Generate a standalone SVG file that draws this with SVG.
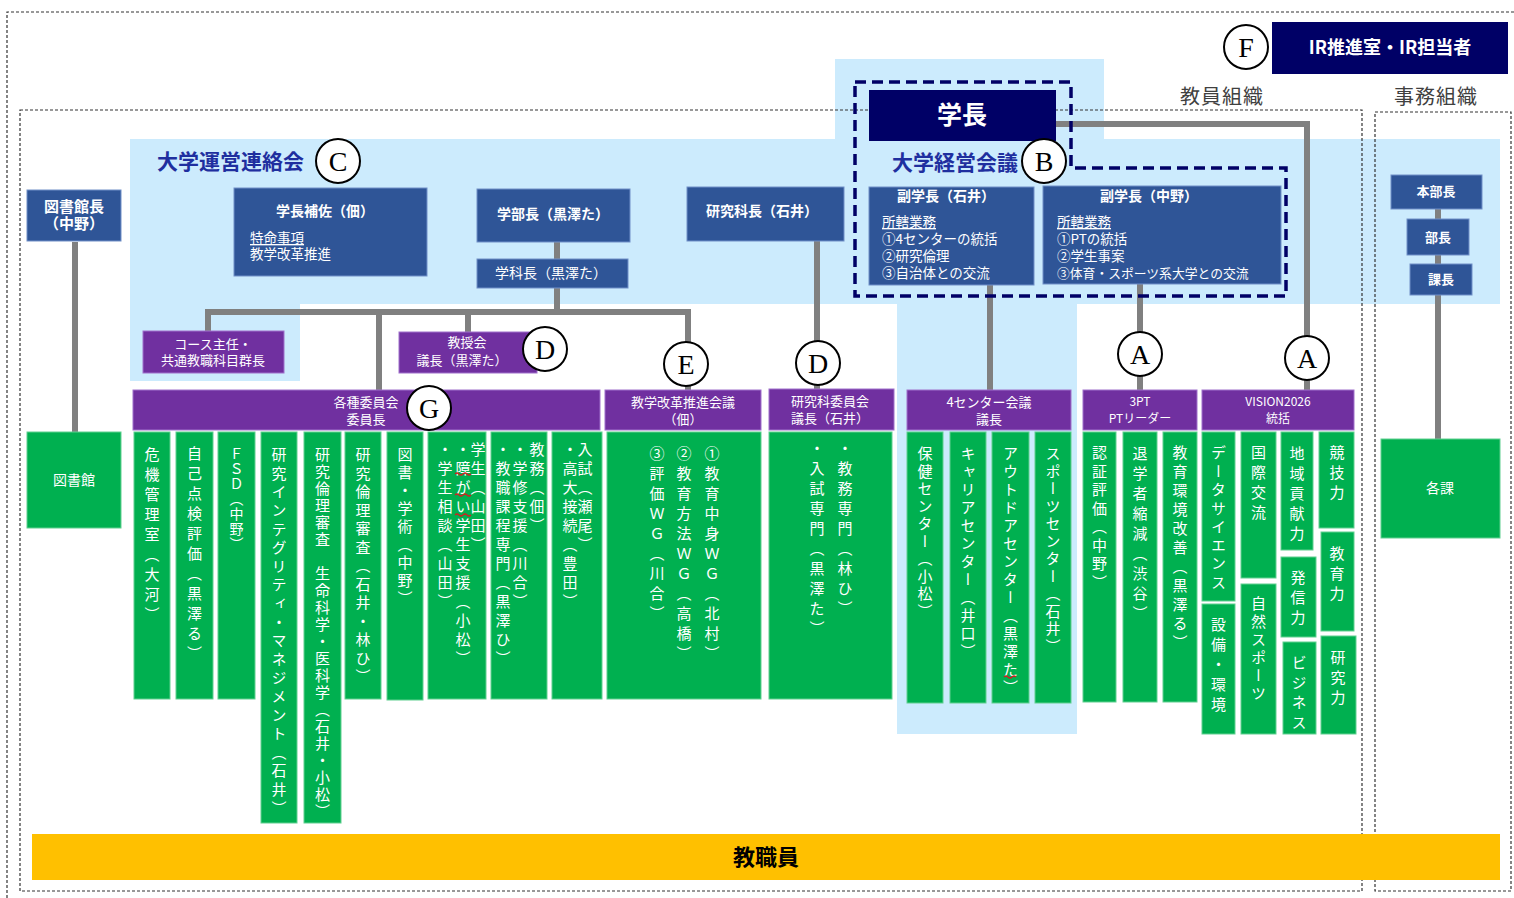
<svg xmlns="http://www.w3.org/2000/svg" width="1514" height="898" viewBox="0 0 1514 898">
<style>
text{font-family:"Noto Sans CJK JP","Noto Sans",sans-serif}
.lb{fill:#CCEBFD}
.bb{fill:#2F5597;stroke:#7090C8;stroke-width:1}
.nv{fill:#000066}
.pp{fill:#7030A0;stroke:#A070CC;stroke-width:1}
.gr{fill:#00B050;stroke:#60D090;stroke-width:1}
.yl{fill:#FFC000}
.cn{stroke:#808080;stroke-width:6;fill:none}
.fr{fill:none;stroke:#333;stroke-width:1.2;stroke-dasharray:3 2}
.dn{fill:none;stroke:#000066;stroke-width:3.5;stroke-dasharray:11 6}
.tb{fill:#fff;font-size:14px;font-weight:bold;text-anchor:middle}
.tn{fill:#fff;font-size:13.5px}
.tp{fill:#fff;font-size:13px;text-anchor:middle}
.v{fill:#fff;font-size:15px;writing-mode:vertical-rl;letter-spacing:5px;dominant-baseline:central}
.ci{fill:#fff;stroke:#000;stroke-width:2}
.lt{font-family:"Liberation Serif",serif;font-size:28px;text-anchor:middle;fill:#000}
.hd{fill:#1F2F9F;font-size:21px;font-weight:bold}
.sq{fill:none;stroke:#D02020;stroke-width:1.2}
</style>

<!-- light blue backgrounds -->
<g id="backgrounds">
<rect class="lb" x="130" y="139" width="1370" height="165"/>
<rect class="lb" x="835" y="59" width="269" height="81"/>
<rect class="lb" x="130" y="303" width="170" height="78"/>
<rect class="lb" x="897" y="303" width="180" height="431"/>
</g>

<!-- frames -->
<g id="frames">
<path class="fr" d="M7 898 V12 H1514"/>
<rect class="fr" x="20" y="110" width="1342" height="781"/>
<rect class="fr" x="1375" y="112" width="136" height="779"/>
<text x="1222" y="104" font-size="20" fill="#404040" text-anchor="middle" letter-spacing="1">教員組織</text>
<text x="1436" y="104" font-size="20" fill="#404040" text-anchor="middle" letter-spacing="1">事務組織</text>
</g>

<!-- connectors -->
<g id="connectors">
<path class="cn" d="M75 242 V432"/>
<path class="cn" d="M557 242 V259"/>
<path class="cn" d="M557 288 V312"/>
<path class="cn" d="M208 331 V312 H688 V390"/>
<path class="cn" d="M379 312 V390"/>
<path class="cn" d="M468 312 V332"/>
<path class="cn" d="M817 241 V389"/>
<path class="cn" d="M990 285 V390"/>
<path class="cn" d="M1140 284 V390"/>
<path class="cn" d="M1056 124 H1307 V390"/>
<path class="cn" d="M1438 209 V439"/>
</g>

<!-- 大学経営会議 dashed boundary -->
<g id="keiei">
<path class="dn" d="M855 82 H1071 V168 H1286 V296 H855 Z"/>
<text class="hd" x="892" y="170">大学経営会議</text>
</g>
<g id="unei"><text class="hd" x="157" y="169">大学運営連絡会</text></g>

<!-- blue nodes -->
<g id="toshokancho"><rect class="bb" x="27" y="190" width="94" height="51"/>
<text class="tb" x="74" y="212" style="font-size:15px">図書館長</text><text class="tb" x="74" y="229" style="font-size:15px">（中野）</text></g>
<g id="hosa"><rect class="bb" x="234" y="188" width="193" height="88"/>
<text class="tb" x="325" y="216">学長補佐（佃）</text>
<text class="tn" x="250" y="243" text-decoration="underline">特命事項</text>
<text class="tn" x="250" y="259">教学改革推進</text></g>
<g id="gakubucho"><rect class="bb" x="477" y="189" width="153" height="53"/><text class="tb" x="553" y="219">学部長（黒澤た）</text></g>
<g id="gakkacho"><rect class="bb" x="477" y="259" width="151" height="29"/><text class="tb" x="551" y="278" style="font-weight:normal">学科長（黒澤た）</text></g>
<g id="kenkyukacho"><rect class="bb" x="687" y="187" width="157" height="54"/><text class="tb" x="762" y="216">研究科長（石井）</text></g>
<g id="gakucho"><rect class="nv" x="869" y="90" width="187" height="51"/><text class="tb" x="962" y="124" style="font-size:25px">学長</text></g>
<g id="fuku1"><rect class="bb" x="869" y="187" width="165" height="98"/>
<text class="tb" x="946" y="201">副学長（石井）</text>
<text class="tn" x="882" y="227" text-decoration="underline">所轄業務</text>
<text class="tn" x="882" y="244">①4センターの統括</text>
<text class="tn" x="882" y="261">②研究倫理</text>
<text class="tn" x="882" y="278">③自治体との交流</text></g>
<g id="fuku2"><rect class="bb" x="1043" y="186" width="238" height="98"/>
<text class="tb" x="1149" y="201">副学長（中野）</text>
<text class="tn" x="1057" y="227" text-decoration="underline">所轄業務</text>
<text class="tn" x="1057" y="244">①PTの統括</text>
<text class="tn" x="1057" y="261">②学生事案</text>
<text class="tn" x="1057" y="278" style="font-size:12.8px">③体育・スポーツ系大学との交流</text></g>
<g id="ir"><rect class="nv" x="1272" y="22" width="236" height="52"/><text class="tb" x="1390" y="54" style="font-size:18px">IR推進室・IR担当者</text></g>
<g id="honbucho"><rect class="bb" x="1391" y="175" width="91" height="34"/><text class="tb" x="1436" y="196" style="font-size:13px">本部長</text></g>
<g id="bucho"><rect class="bb" x="1407" y="219" width="62" height="36"/><text class="tb" x="1438" y="242" style="font-size:13px">部長</text></g>
<g id="kacho"><rect class="bb" x="1410" y="264" width="62" height="31"/><text class="tb" x="1441" y="284" style="font-size:13px">課長</text></g>

<!-- purple nodes -->
<g id="course"><rect class="pp" x="143" y="331" width="141" height="42"/>
<text class="tp" x="213" y="349">コース主任・</text><text class="tp" x="213" y="365">共通教職科目群長</text></g>
<g id="kyojukai"><rect class="pp" x="399" y="332" width="138" height="41"/>
<text class="tp" x="467" y="347">教授会</text><text class="tp" x="462" y="365">議長（黒澤た）</text></g>
<g id="iinkai"><rect class="pp" x="133" y="390" width="467" height="40"/>
<text class="tp" x="366" y="407">各種委員会</text><text class="tp" x="366" y="424">委員長</text></g>
<g id="kyogaku"><rect class="pp" x="605" y="390" width="156" height="40"/>
<text class="tp" x="683" y="407">教学改革推進会議</text><text class="tp" x="683" y="424">（佃）</text></g>
<g id="kenkyuiinkai"><rect class="pp" x="769" y="389" width="125" height="41"/>
<text class="tp" x="830" y="406">研究科委員会</text><text class="tp" x="830" y="423">議長（石井）</text></g>
<g id="center4"><rect class="pp" x="907" y="390" width="164" height="40"/>
<text class="tp" x="989" y="407">4センター会議</text><text class="tp" x="989" y="424">議長</text></g>
<g id="pt3"><rect class="pp" x="1083" y="390" width="114" height="40"/>
<text class="tp" x="1140" y="406" style="font-size:12px">3PT</text><text class="tp" x="1140" y="423" style="font-size:12px">PTリーダー</text></g>
<g id="vision"><rect class="pp" x="1202" y="390" width="152" height="40"/>
<text class="tp" x="1278" y="406" style="font-size:12px">VISION2026</text><text class="tp" x="1278" y="423" style="font-size:12px">統括</text></g>

<!-- green nodes -->
<g id="toshokan"><rect class="gr" x="27" y="432" width="94" height="96"/><text class="tp" x="74" y="485" style="font-size:14px">図書館</text></g>
<g id="kakuka"><rect class="gr" x="1381" y="439" width="119" height="99"/><text class="tp" x="1440" y="493" style="font-size:14px">各課</text></g>

<g id="iinkai-cols">
<rect class="gr" x="134" y="432" width="36" height="267"/><text class="v" x="152" y="447">危機管理室（大河）</text>
<rect class="gr" x="176" y="432" width="37" height="267"/><text class="v" x="194.5" y="446">自己点検評価（黒澤る）</text>
<rect class="gr" x="218" y="432" width="37" height="267"/><text class="v" x="236.5" y="447" style="letter-spacing:1px;font-size:14px">ＦＳＤ（中野）</text>
<rect class="gr" x="261" y="432" width="36" height="391"/><text class="v" x="279" y="447" style="letter-spacing:3.6px">研究インテグリティ・マネジメント（石井）</text>
<rect class="gr" x="304" y="432" width="37" height="391"/><text class="v" x="322.5" y="447" style="letter-spacing:2px">研究倫理審査　生命科学・医科学（石井・小松）</text>
<rect class="gr" x="345" y="432" width="36" height="267"/><text class="v" x="363" y="447" style="letter-spacing:3.5px">研究倫理審査（石井・林ひ）</text>
<rect class="gr" x="387" y="432" width="36" height="268"/><text class="v" x="405" y="447" style="letter-spacing:3px">図書・学術（中野）</text>
<rect class="gr" x="428" y="432" width="58" height="267"/>
<text class="v" x="445" y="442" style="letter-spacing:4px">・学生相談（山田）</text>
<text class="v" x="463" y="442" style="letter-spacing:4px">・障がい学生支援（小松）</text>
<text class="v" x="478" y="442" style="letter-spacing:4px">学生（山田）</text>
<path class="sq" d="M455 474 q2 -2 4 0 t4 0 t4 0 t4 0 M455 495 q2 -2 4 0 t4 0 t4 0 t4 0 M455 515 q2 -2 4 0 t4 0 t4 0 t4 0"/>
<rect class="gr" x="491" y="432" width="56" height="267"/>
<text class="v" x="503" y="442" style="letter-spacing:4px">・教職課程専門（黒澤ひ）</text>
<text class="v" x="520" y="442" style="letter-spacing:4px">・学修支援（川合）</text>
<text class="v" x="537" y="442" style="letter-spacing:4px">教務（佃）</text>
<rect class="gr" x="552" y="432" width="50" height="267"/>
<text class="v" x="570" y="442" style="letter-spacing:4px">・高大接続（豊田）</text>
<text class="v" x="585" y="442" style="letter-spacing:4px">入試（瀬尾）</text>
</g>

<g id="kyogaku-cols">
<rect class="gr" x="607" y="432" width="154" height="267"/>
<text class="v" x="657" y="446">③評価ＷＧ（川合）</text>
<text class="v" x="684" y="446">②教育方法ＷＧ（高橋）</text>
<text class="v" x="712" y="446">①教育中身ＷＧ（北村）</text>
</g>

<g id="kenkyu-cols">
<rect class="gr" x="769" y="432" width="123" height="267"/>
<text class="v" x="817" y="441">・入試専門（黒澤た）</text>
<text class="v" x="845" y="441">・教務専門（林ひ）</text>
</g>

<g id="center-cols">
<rect class="gr" x="907" y="432" width="36" height="271"/><text class="v" x="925" y="446" style="letter-spacing:2.5px">保健センター（小松）</text>
<rect class="gr" x="950" y="432" width="36" height="271"/><text class="v" x="968" y="446" style="letter-spacing:3px">キャリアセンター（井口）</text>
<rect class="gr" x="992" y="432" width="37" height="271"/><text class="v" x="1010.5" y="446" style="letter-spacing:3px">アウトドアセンター（黒澤た）</text>
<path class="sq" d="M1004 677 q2 -2 4 0 t4 0 t4 0"/>
<rect class="gr" x="1035" y="432" width="36" height="271"/><text class="v" x="1053" y="446" style="letter-spacing:2.5px">スポーツセンター（石井）</text>
</g>

<g id="pt-cols">
<rect class="gr" x="1083" y="432" width="33" height="270"/><text class="v" x="1099.5" y="445" style="letter-spacing:3.5px">認証評価（中野）</text>
<rect class="gr" x="1123" y="432" width="34" height="270"/><text class="v" x="1140" y="446" style="letter-spacing:5px">退学者縮減（渋谷）</text>
<rect class="gr" x="1163" y="432" width="34" height="270"/><text class="v" x="1180" y="445" style="letter-spacing:4px">教育環境改善（黒澤る）</text>
</g>

<g id="vision-cols">
<rect class="gr" x="1202" y="432" width="33" height="169"/><text class="v" x="1218.5" y="445" style="letter-spacing:3.5px">データサイエンス</text>
<rect class="gr" x="1202" y="604" width="33" height="130"/><text class="v" x="1218.5" y="617">設備・環境</text>
<rect class="gr" x="1241" y="432" width="35" height="146"/><text class="v" x="1258.5" y="445">国際交流</text>
<rect class="gr" x="1241" y="584" width="35" height="150"/><text class="v" x="1258.5" y="596" style="letter-spacing:3px">自然スポーツ</text>
<rect class="gr" x="1281" y="432" width="32" height="118"/><text class="v" x="1297" y="446">地域貢献力</text>
<rect class="gr" x="1281" y="557" width="35" height="80"/><text class="v" x="1298" y="570">発信力</text>
<rect class="gr" x="1283" y="642" width="33" height="92"/><text class="v" x="1299" y="655">ビジネス</text>
<rect class="gr" x="1319" y="432" width="35" height="96"/><text class="v" x="1337" y="445">競技力</text>
<rect class="gr" x="1321" y="532" width="33" height="99"/><text class="v" x="1337" y="546">教育力</text>
<rect class="gr" x="1321" y="636" width="35" height="98"/><text class="v" x="1338" y="650">研究力</text>
</g>

<g id="kyoshokuin"><rect class="yl" x="32" y="834" width="1468" height="46"/>
<text x="766" y="865" font-size="22" font-weight="bold" text-anchor="middle" fill="#000">教職員</text></g>

<!-- letter circles -->
<g id="labels">
<circle class="ci" cx="338" cy="161" r="22"/><text class="lt" x="338" y="171">C</text>
<circle class="ci" cx="1044" cy="161" r="22"/><text class="lt" x="1044" y="171">B</text>
<circle class="ci" cx="1246" cy="47" r="22"/><text class="lt" x="1246" y="57">F</text>
<circle class="ci" cx="545" cy="349" r="22"/><text class="lt" x="545" y="359">D</text>
<circle class="ci" cx="429" cy="408" r="22"/><text class="lt" x="429" y="418">G</text>
<circle class="ci" cx="686" cy="364" r="22"/><text class="lt" x="686" y="374">E</text>
<circle class="ci" cx="818" cy="363" r="22"/><text class="lt" x="818" y="373">D</text>
<circle class="ci" cx="1140" cy="354" r="22"/><text class="lt" x="1140" y="364">A</text>
<circle class="ci" cx="1307" cy="358" r="22"/><text class="lt" x="1307" y="368">A</text>
</g>
</svg>
